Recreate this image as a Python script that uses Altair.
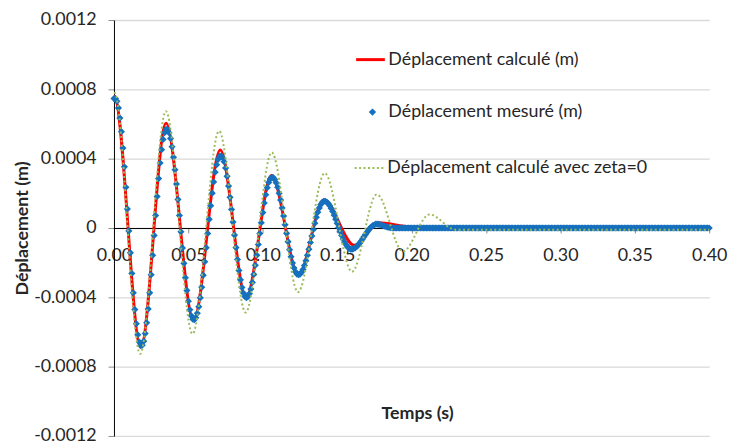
import altair as alt
import pandas as pd

FONT = "Lato"
TXT = "#262626"

names = ["Déplacement calculé (m)", "Déplacement mesuré (m)",
         "Déplacement calculé avec zeta=0"]
colors = ["#FF0000", "#1570BE", "#9BBB59"]

# Measured displacement (micrometres), one sample per millisecond from t = 0 s
mesure_um = [
    747, 747, 731, 693, 634, 556, 461, 353, 235, 110,
    -17, -143, -262, -374, -471, -552, -616, -658, -678, -676,
    -653, -609, -547, -467, -374, -270, -158, -43, 72, 182,
    285, 375, 452, 511, 550, 569, 568, 550, 517, 469,
    408, 336, 254, 165, 72, -22, -115, -204, -287, -360,
    -423, -472, -507, -526, -529, -518, -492, -454, -403, -342,
    -272, -195, -114, -32, 50, 129, 201, 266, 322, 365,
    396, 414, 416, 406, 382, 346, 298, 242, 177, 107,
    34, -41, -113, -182, -245, -299, -343, -375, -395, -402,
    -396, -379, -352, -314, -268, -215, -157, -95, -32, 30,
    89, 144, 192, 232, 263, 283, 293, 291, 280, 261,
    235, 201, 161, 116, 69, 19, -31, -79, -125, -166,
    -202, -231, -253, -266, -270, -267, -256, -240, -217, -189,
    -157, -122, -84, -46, -8, 28, 62, 91, 116, 135,
    148, 154, 154, 150, 141, 129, 113, 95, 74, 51,
    27, 3, -20, -43, -64, -82, -97, -109, -117, -122,
    -122, -119, -115, -108, -99, -88, -77, -64, -51, -38,
    -25, -13, -2, 7, 14, 19, 22, 22, 21, 19,
    16, 13, 10, 7, 5, 3, 2, 1,
] + [0] * 213
t_mesure = [i / 1000 for i in range(len(mesure_um))]

# Calculated displacement: turning points
calc_t = [0.0, 0.0005, 0.0180, 0.0350, 0.0535, 0.0714, 0.0888, 0.1059, 0.1240,
          0.1410, 0.1615, 0.1780, 0.1950, 0.2100, 0.40]
calc_um = [760, 759, -690, 605, -535, 450, -402, 303, -272,
           162, -100, 30, 10, 0, 0]

# Calculated with zeta = 0: turning points
zeta_t = [0.0, 0.0005, 0.0176, 0.0349, 0.0528, 0.0706, 0.0885, 0.1060, 0.1237,
          0.1416, 0.1600, 0.1766, 0.1942, 0.2120, 0.2296, 0.40]
zeta_um = [780, 779, -726, 674, -611, 560, -488, 436, -370,
           316, -252, 194, -135, 78, -10, -10]

x_ticks = [0.0, 0.05, 0.10, 0.15, 0.20, 0.25, 0.30, 0.35, 0.40]
y_ticks = [-0.0012, -0.0008, -0.0004, 0.0, 0.0004, 0.0008, 0.0012]

df_calc = pd.DataFrame({"t": calc_t, "v": [u * 1e-6 for u in calc_um], "s": names[0]})
df_mes = pd.DataFrame({"t": t_mesure, "v": [u * 1e-6 for u in mesure_um], "s": names[1]})
df_zeta = pd.DataFrame({"t": zeta_t, "v": [u * 1e-6 for u in zeta_um], "s": names[2]})

x_enc = alt.X(
    "t:Q",
    scale=alt.Scale(domain=[0, 0.4], nice=False, zero=False),
    axis=alt.Axis(
        title="Temps (s)", values=x_ticks, format=".2f", offset=-210, grid=False,
        domainColor="#000000", domainWidth=1, tickColor="#8C8C8C", tickSize=5,
        labelFont=FONT, labelFontSize=18, labelColor=TXT, labelPadding=14,
        labelFlush=False, labelOverlap=False,
        titleFont=FONT, titleFontSize=18, titleFontWeight="bold", titleColor=TXT,
        titleX=306, titleY=187, titleBaseline="middle",
    ),
)
y_enc = alt.Y(
    "v:Q",
    scale=alt.Scale(domain=[-0.0012, 0.0012], nice=False, zero=False),
    axis=alt.Axis(
        title="Déplacement (m)", values=y_ticks,
        labelExpr="datum.value == 0 ? '0' : (datum.value < 0 ? '-' : '') + format(abs(datum.value), '.4f')",
        grid=True, gridColor="#D9D9D9", gridWidth=1.3,
        domainColor="#000000", domainWidth=1, tickColor="#8C8C8C", tickSize=6,
        labelFont=FONT, labelFontSize=18, labelColor=TXT, labelPadding=12,
        labelOverlap=False,
        titleFont=FONT, titleFontSize=18, titleFontWeight="bold", titleColor=TXT,
        titleX=-92, titleY=210, titleAngle=270, titleAlign="center", titleBaseline="middle",
    ),
)


def leg(x, y, **kw):
    return alt.Legend(title=None, orient="none", legendX=x, legendY=y, padding=0,
                      labelLimit=500, labelFont=FONT, labelFontSize=18,
                      labelColor=TXT, **kw)


calc = alt.Chart(df_calc).mark_line(interpolate="monotone", strokeWidth=3).encode(
    x=x_enc, y=y_enc,
    color=alt.Color("s:N", scale=alt.Scale(domain=[names[0]], range=[colors[0]]),
                    legend=leg(243, 24, symbolType="stroke", symbolSize=841,
                               symbolStrokeWidth=3, labelOffset=2)),
)
mes = alt.Chart(df_mes).mark_point(shape="diamond", filled=True, size=52, opacity=1).encode(
    x=x_enc, y=y_enc,
    color=alt.Color("s:N", scale=alt.Scale(domain=[names[1]], range=[colors[1]]),
                    legend=leg(252, 84, symbolType="diamond", symbolSize=55,
                               symbolStrokeWidth=0, labelOffset=7)),
)
zeta = alt.Chart(df_zeta).mark_line(interpolate="monotone", strokeWidth=2,
                                    strokeDash=[2, 2.5]).encode(
    x=x_enc, y=y_enc,
    color=alt.Color("s:N", scale=alt.Scale(domain=[names[2]], range=[colors[2]]),
                    legend=leg(242, 134, symbolType="stroke", symbolSize=841,
                               symbolStrokeWidth=2, symbolDash=[2, 2.5], labelOffset=3)),
)

chart = alt.layer(calc, mes, zeta).resolve_scale(color="independent").properties(
    width=601, height=420,
    autosize=alt.AutoSizeParams(type="none"),
    padding={"left": 107, "top": 10, "right": 20, "bottom": 8},
).configure_view(strokeWidth=0)

chart.save("out.html", embed_options={"renderer": "svg", "actions": False})
